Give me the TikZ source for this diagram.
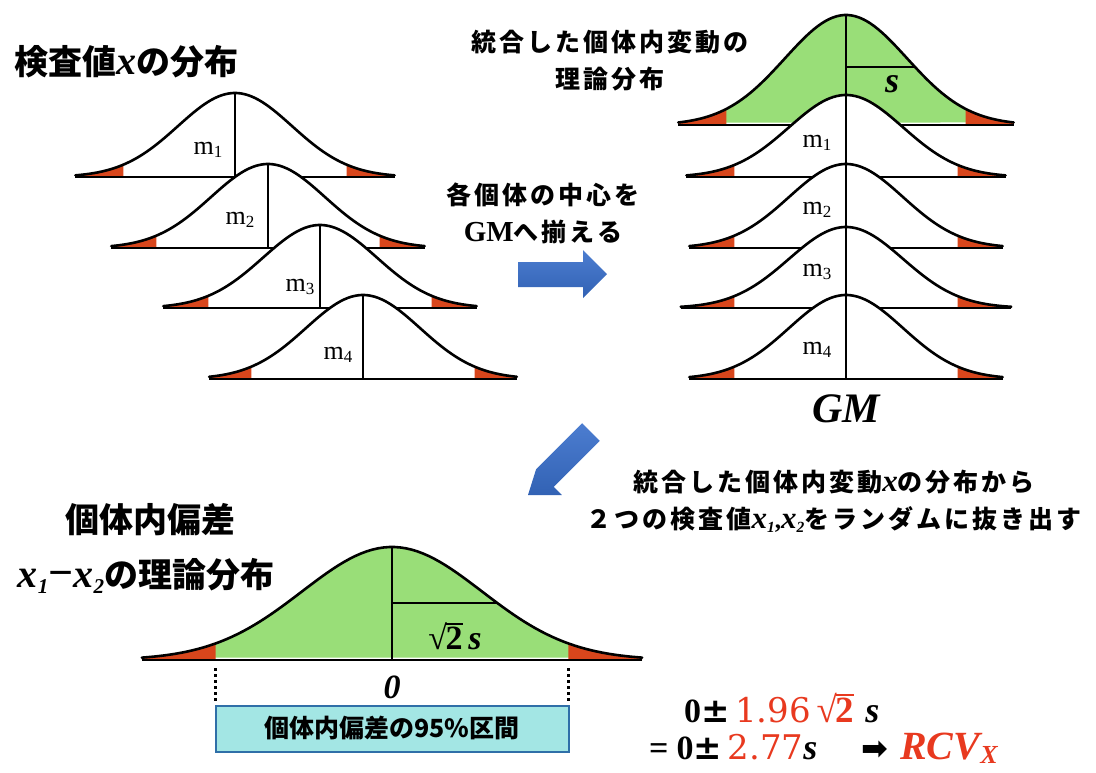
\documentclass[tikz,border=0pt]{standalone}
\usepackage{graphicx}
\usepackage{fontspec}
\newfontfamily\jp{Noto Sans CJK JP}
\newfontfamily\jpw{Noto Sans CJK JP}[LetterSpace=12]
\newfontfamily\tms{Liberation Serif}
\newfontfamily\dv{DejaVu Sans}
\newfontfamily\dvs{DejaVu Serif}
\definecolor{mygreen}{HTML}{99DE78}
\definecolor{tailred}{HTML}{D8461C}
\definecolor{textred}{HTML}{E8391F}
\definecolor{boxfill}{HTML}{A3E6E4}
\definecolor{boxdraw}{HTML}{2F6FA8}
\definecolor{arrowtop}{HTML}{4C7DD0}
\definecolor{arrowbot}{HTML}{3262B4}
\newcommand\bx[1]{{\tms\bfseries\itshape #1}}
\newcommand\bxs[2]{{\fontsize{#1}{#1}\selectfont\bx{#2}}}
\newcommand\sbx[1]{\raisebox{-0.3ex}{\scalebox{0.62}{\bx{#1}}}}
\newcommand\mlab[1]{{\tms\fontsize{26}{26}\selectfont m\raisebox{-0.3ex}{\fontsize{17}{17}\selectfont #1}}}
\newcommand\rttwo{{\tms\mdseries √}\kern-0.04em\vbox{\hrule height 0.05em\kern0.06em\hbox{2}}}
\newcommand\pmb{{\dv\bfseries ±}}
% mu, base, sigma, height, tmax, fill colour, middle line style
\newcommand\gaussian[7]{%
  \fill[#6] plot[domain=-#5:#5,samples=90] ({#1+#3*\x},{#2-#4*exp(-0.5*\x*\x)}) -- cycle;
  \fill[tailred] plot[domain=-#5:-1.96,samples=25] ({#1+#3*\x},{#2-#4*exp(-0.5*\x*\x)}) -- ({#1-1.96*#3},#2) -- ({#1-#5*#3},#2) -- cycle;
  \fill[tailred] plot[domain=1.96:#5,samples=25] ({#1+#3*\x},{#2-#4*exp(-0.5*\x*\x)}) -- ({#1+#5*#3},#2) -- ({#1+1.96*#3},#2) -- cycle;
  \draw[#7] (#1,{#2-#4}) -- (#1,#2);
  \draw[curve] plot[domain=-#5:#5,samples=90] ({#1+#3*\x},{#2-#4*exp(-0.5*\x*\x)});
  \draw[base] ({#1-#5*#3},#2) -- ({#1+#5*#3},#2);
}
\begin{document}
\begin{tikzpicture}[x=1pt,y=-1pt,
  curve/.style={line width=2.6pt,line join=round,line cap=round},
  base/.style={line width=2.8pt},
  mline/.style={line width=1.1pt},
  thickline/.style={line width=2.4pt},
  title/.style={inner sep=0,font=\jp\bfseries\fontsize{34}{40}\selectfont},
  expl/.style={inner sep=0,align=center,font=\jpw\bfseries\fontsize{25}{37}\selectfont},
  formula/.style={inner sep=0,anchor=west,font=\tms\bfseries\fontsize{34}{40}\selectfont}]
\useasboundingbox (0,0) rectangle (1096,772);

% left stack
\gaussian{235}{177}{57}{84}{2.8}{white}{mline}
\gaussian{268}{248}{57}{84}{2.75}{white}{mline}
\gaussian{320}{308}{57}{83}{2.75}{white}{mline}
\gaussian{363}{379}{57}{84}{2.7}{white}{mline}
\node[inner sep=0] (lm1) at (208,150) {\mlab{1}};
\node[inner sep=0] (lm2) at (240,220) {\mlab{2}};
\node[inner sep=0] (lm3) at (300,287) {\mlab{3}};
\node[inner sep=0] (lm4) at (338,355) {\mlab{4}};

% right stack
\gaussian{846}{125}{61}{110}{2.75}{mygreen}{thickline}
\draw[thickline] (846,67) -- (915,67);
\node[inner sep=0] (s) at (892,84) {\bxs{36}{s}};
\gaussian{846}{177}{57}{82}{2.8}{white}{mline}
\gaussian{846}{248}{57}{84}{2.75}{white}{mline}
\gaussian{846}{308}{57}{81}{2.9}{white}{mline}
\gaussian{846}{379}{57}{84}{2.75}{white}{mline}
\node[inner sep=0] (rm1) at (817,143) {\mlab{1}};
\node[inner sep=0] (rm2) at (817,210) {\mlab{2}};
\node[inner sep=0] (rm3) at (817,272) {\mlab{3}};
\node[inner sep=0] (rm4) at (817,350) {\mlab{4}};
\node[inner sep=0] (gm) at (846,409) {\bxs{42}{GM}};

% bottom curve
\gaussian{392}{660}{90}{113}{2.78}{mygreen}{thickline}
\draw[thickline] (392,603) -- (497,603);
\node[inner sep=0] (r2s) at (455,636) {\fontsize{34}{34}\selectfont\tms\bfseries\rttwo\,\bx{s}};
\node[inner sep=0] (zero) at (392,687) {\bxs{34}{0}};
\draw[line width=2.6pt,dash pattern=on 3pt off 3pt] (215.6,668) -- (215.6,701);
\draw[line width=2.6pt,dash pattern=on 3pt off 3pt] (568.4,668) -- (568.4,701);
\node[draw=boxdraw,fill=boxfill,line width=2pt,minimum width=353pt,minimum height=46pt,inner sep=0,
  font=\jp\bfseries\fontsize{25}{25}\selectfont] (ci) at (392,728.5) {個体内偏差の95\%区間};

% titles
\node[title,anchor=west] (t1) at (14,62) {検査値\bxs{40}{x}の分布};
\node[expl] (t2) at (610,61) {統合した個体内変動の\\理論分布};
\node[expl] (t3) at (543,213) {各個体の中心を\\{\tms\bfseries\fontsize{29}{29}\selectfont GM}へ揃える};
\node[expl] (t4) at (834,501) {統合した個体内変動\bxs{31}{x}の分布から\\２つの検査値\bxs{31}{x}\sbx{1}{\tms\bfseries ,}\bxs{31}{x}\sbx{2}をランダムに抜き出す};
\node[title] (t5) at (150,520) {個体内偏差};
\node[title] (t6) at (146,576) {\bxs{40}{x}\sbx{1}{\tms\bfseries\fontsize{44}{44}\selectfont −}\bxs{40}{x}\sbx{2}の理論分布};

% formulas
\node[formula] (f1) at (684,708) {0\pmb\,\textcolor{textred}{{\dvs\mdseries 1.96}\,{\fontsize{37}{40}\selectfont\rttwo}}\,\,\bxs{36}{s}};
\node[formula] (f2) at (649,748) {=\hspace{8pt}0\pmb\,\textcolor{textred}{\dvs\mdseries 2.77}\bxs{36}{s}\hspace{44pt}{\dv\fontsize{32}{32}\selectfont ➡}\hspace{12pt}\textcolor{textred}{\bxs{40}{RCV}\raisebox{-0.25ex}{\bxs{26}{X}}}};

% blue arrows
\shade[top color=arrowtop,bottom color=arrowbot] (518,262) -- (583,262) -- (583,250) -- (607,274) -- (583,298) -- (583,287) -- (518,287) -- cycle;
\shade[top color=arrowtop,bottom color=arrowbot] (528,495) -- (536.1,469.2) -- (582.1,423.2) -- (599.8,440.9) -- (553.8,486.9) -- (561.9,495) -- cycle;
\end{tikzpicture}
\end{document}
